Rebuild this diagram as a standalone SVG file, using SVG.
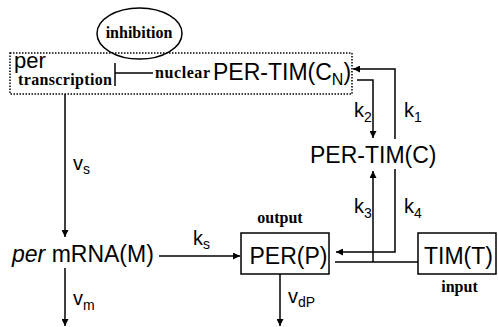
<svg xmlns="http://www.w3.org/2000/svg" width="498" height="327" viewBox="0 0 498 327">
<style>
.s{font-family:"Liberation Sans",Arial,sans-serif;fill:#000}
.b{font-family:"Liberation Serif","Times New Roman",serif;font-weight:bold;fill:#000;font-size:16px}
.l{stroke:#000;stroke-width:1.5;fill:none}
.lab{font-size:20px}
.sub{font-size:14px}
</style>
<defs>
<marker id="a" viewBox="0 0 10 10" refX="10" refY="5" markerWidth="7" markerHeight="7" markerUnits="userSpaceOnUse" orient="auto">
<path d="M0,0 L10,5 L0,10 z" fill="#000"/>
</marker>
</defs>
<rect width="498" height="327" fill="#fff"/>
<g id="nucleus">
<rect x="10" y="53" width="342" height="41" fill="none" stroke="#000" stroke-width="1.5" stroke-dasharray="1.5,1.5"/>
<text class="s" x="14" y="68" font-size="22">per</text>
<text class="b" x="18" y="85" font-size="16.5" textLength="94">transcription</text>
<text class="b" x="155" y="78" textLength="55">nuclear</text>
<text class="s" x="213" y="80" font-size="23">PER-TIM(C<tspan font-size="16" dy="5">N</tspan><tspan dy="-5">)</tspan></text>
</g>
<g id="inhibition">
<ellipse cx="139.5" cy="33.5" rx="42.5" ry="25.5" fill="none" stroke="#000" stroke-width="1.5"/>
<text class="b" x="139" y="38" text-anchor="middle">inhibition</text>
</g>
<g id="pertimc">
<text class="s" x="310" y="163" font-size="23">PER-TIM(C)</text>
</g>
<g id="mrna">
<text class="s" x="12" y="262" font-size="23"><tspan font-style="italic">per</tspan> mRNA(M)</text>
</g>
<g id="per">
<rect x="241" y="233" width="88" height="41" fill="none" stroke="#000" stroke-width="1.5"/>
<text class="s" x="288.5" y="264" font-size="23" text-anchor="middle">PER(P)</text>
<text class="b" x="280" y="223" text-anchor="middle">output</text>
</g>
<g id="tim">
<rect x="418" y="233" width="78" height="41" fill="none" stroke="#000" stroke-width="1.5"/>
<text class="s" x="458.5" y="264" font-size="23" text-anchor="middle">TIM(T)</text>
<text class="b" x="459.5" y="292" text-anchor="middle">input</text>
</g>
<g id="connectors">
<path class="l" d="M115,63 V86 M115,73 H153"/>
<path class="l" d="M65,94 V237" marker-end="url(#a)"/>
<path class="l" d="M65,268 V326" marker-end="url(#a)"/>
<path class="l" d="M159,256 H240" marker-end="url(#a)"/>
<path class="l" d="M280,274 V326" marker-end="url(#a)"/>
<path class="l" d="M395,139 V69 H353" marker-end="url(#a)"/>
<path class="l" d="M357,80 H373 V138" marker-end="url(#a)"/>
<path class="l" d="M335,262 H418"/>
<path class="l" d="M373,262 V171" marker-end="url(#a)"/>
<path class="l" d="M395,169 V252 H336" marker-end="url(#a)"/>
<text class="s lab" x="73" y="170">v<tspan class="sub" dy="4">s</tspan></text>
<text class="s lab" x="73" y="305">v<tspan class="sub" dy="5">m</tspan></text>
<text class="s lab" x="193" y="245">k<tspan class="sub" dy="4">s</tspan></text>
<text class="s lab" x="288" y="303" font-size="20">v<tspan class="sub" dy="4">dP</tspan></text>
<text class="s lab" x="354" y="117">k<tspan class="sub" dy="5">2</tspan></text>
<text class="s lab" x="404" y="117">k<tspan class="sub" dy="5">1</tspan></text>
<text class="s lab" x="354" y="213">k<tspan class="sub" dy="5">3</tspan></text>
<text class="s lab" x="404" y="213">k<tspan class="sub" dy="5">4</tspan></text>
</g>
</svg>
